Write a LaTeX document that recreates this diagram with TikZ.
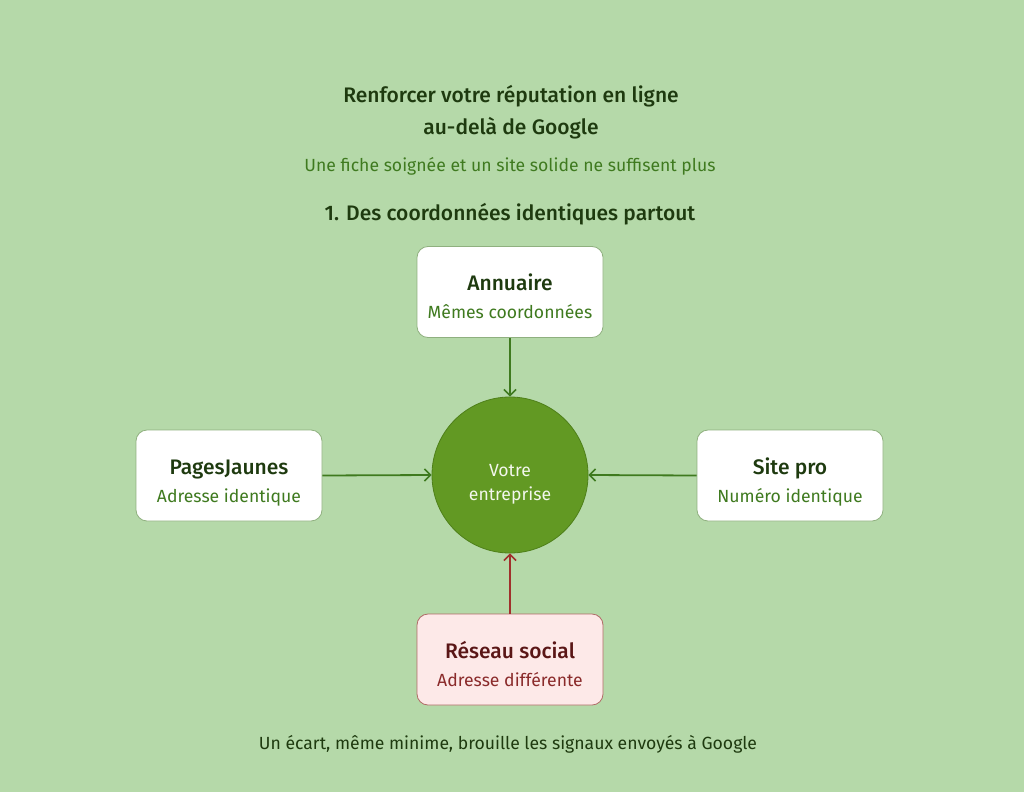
\documentclass[tikz,border=0pt]{standalone}
\usepackage{fontspec}
\setmainfont{Fira Sans}[BoldFont={Fira Sans Medium}]
\usetikzlibrary{arrows.meta}
\definecolor{bg}{HTML}{B5D9A9}
\definecolor{dark}{HTML}{1E3A0F}
\definecolor{mid}{HTML}{3F7A1F}
\definecolor{circ}{HTML}{629923}
\definecolor{circb}{HTML}{4E8019}
\definecolor{boxb}{HTML}{8FB07F}
\definecolor{pinkf}{HTML}{FDE9E8}
\definecolor{pinkb}{HTML}{B06A66}
\definecolor{redd}{HTML}{5A1616}
\definecolor{redm}{HTML}{8A2A2A}
\definecolor{reda}{HTML}{A0302C}
\begin{document}
\begin{tikzpicture}[x=1pt,y=-1pt,
  card/.style={draw=boxb, line width=0.8pt, fill=white, rounded corners=11pt, minimum width=186pt, minimum height=91pt},
  badcard/.style={card, draw=pinkb, fill=pinkf},
  ttl/.style={font=\fontsize{21}{24}\selectfont\bfseries, text=dark},
  sub/.style={font=\fontsize{17.6}{20}\selectfont, text=mid},
  link/.style={draw=mid, line width=1.8pt, -{Straight Barb[length=6pt,width=12pt,line width=1.6pt]}},
  badlink/.style={link, draw=reda}]
\fill[bg] (0,0) rectangle (1024,792);
\useasboundingbox (0,0) rectangle (1024,792);

\node[ttl, anchor=base] (t1) at (511,102) {Renforcer votre réputation en ligne};
\node[ttl, anchor=base] (t2) at (511,134) {au-delà de Google};
\node[sub, anchor=base] (st) at (510,171) {Une fiche soignée et un site solide ne suffisent plus};
\node[ttl, anchor=base] (sec) at (510,220) {1. Des coordonnées identiques partout};

\node[circle, fill=circ, draw=circb, line width=0.8pt, minimum size=156pt] (c) at (510,475) {};
\node[font=\fontsize{17.6}{20}\selectfont, text=white!92!circ, anchor=base] (c1) at (510,476) {Votre};
\node[font=\fontsize{17.6}{20}\selectfont, text=white!92!circ, anchor=base] (c2) at (510,500) {entreprise};

\node[card] (an) at (510,292) {};
\node[ttl, anchor=base] (an1) at (510,290) {Annuaire};
\node[sub, anchor=base] (an2) at (510,318) {Mêmes coordonnées};

\node[card] (pj) at (229,475.5) {};
\node[ttl, anchor=base] (pj1) at (229,474) {PagesJaunes};
\node[sub, anchor=base] (pj2) at (229,502) {Adresse identique};

\node[card] (sp) at (790,475.5) {};
\node[ttl, anchor=base] (sp1) at (790,474) {Site pro};
\node[sub, anchor=base] (sp2) at (790,502) {Numéro identique};

\node[badcard] (rs) at (510,659.5) {};
\node[ttl, text=redd, anchor=base] (rs1) at (510,658) {Réseau social};
\node[sub, text=redm, anchor=base] (rs2) at (510,686) {Adresse différente};

\draw[link] (an.south) -- (c.north);
\draw[link] (pj.east) -- (c.west);
\draw[link] (sp.west) -- (c.east);
\draw[badlink] (rs.north) -- (c.south);

\node[font=\fontsize{17.6}{20}\selectfont, text=dark, anchor=base] (ft) at (508,749) {Un écart, même minime, brouille les signaux envoyés à Google};
\end{tikzpicture}
\end{document}
